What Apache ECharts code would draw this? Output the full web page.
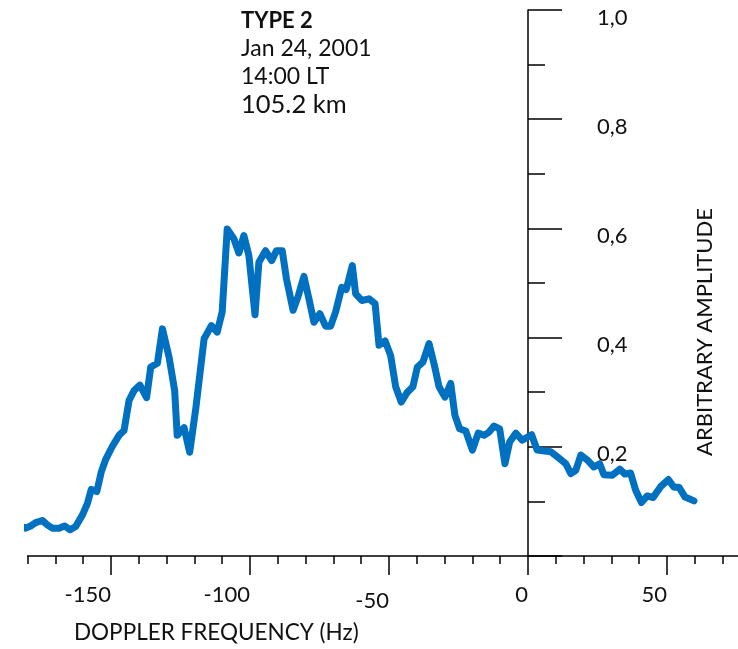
<!DOCTYPE html>
<html>
<head>
<meta charset="utf-8">
<script src="https://cdn.jsdelivr.net/npm/echarts@6/dist/echarts.min.js"></script>
<style>
html,body{margin:0;padding:0;background:#fff;}
#chart{width:738px;height:649px;}
</style>
</head>
<body>
<div id="chart"></div>
<script>
// Doppler frequency (Hz) and arbitrary amplitude
const freq = [-182.3,-180.7,-178.9,-177.1,-174.7,-172.9,-171.1,-168.7,-166.7,-164.7,-162.7,-160.3,-158.5,-157.1,-155.1,-153.5,-151.9,-149.5,-147.1,-145.3,-143.5,-141.7,-139.6,-137.2,-135.7,-133.3,-131.5,-129.1,-127.1,-126.2,-123.7,-121.7,-119.5,-116.5,-113.9,-111.8,-110.0,-108.2,-105.8,-104.0,-102.2,-100.4,-98.2,-96.8,-94.4,-92.2,-90.5,-88.4,-86.9,-84.5,-82.6,-80.6,-78.8,-77.0,-74.9,-72.8,-71.0,-69.2,-67.0,-65.4,-63.2,-62.0,-59.8,-57.2,-55.0,-53.6,-51.4,-49.4,-47.6,-45.6,-43.4,-41.4,-39.8,-37.8,-35.6,-33.8,-32.0,-29.9,-27.8,-26.3,-24.6,-22.4,-20.0,-17.9,-15.8,-14.0,-12.2,-10.2,-8.3,-6.6,-4.4,-2.1,1.3,3.3,8.2,11.2,13.6,15.4,17.2,19.0,21.3,23.7,25.8,27.3,30.3,33.0,34.9,36.9,38.7,40.8,42.9,45.0,47.7,50.5,52.5,54.3,56.5,59.7];
const amp = [0.054,0.051,0.055,0.061,0.065,0.057,0.051,0.051,0.055,0.048,0.054,0.075,0.096,0.122,0.118,0.154,0.177,0.201,0.221,0.230,0.285,0.303,0.313,0.290,0.346,0.353,0.416,0.364,0.303,0.221,0.235,0.190,0.270,0.398,0.422,0.410,0.447,0.599,0.581,0.555,0.587,0.550,0.442,0.538,0.559,0.541,0.559,0.559,0.508,0.450,0.477,0.512,0.471,0.428,0.444,0.421,0.421,0.447,0.492,0.488,0.532,0.480,0.468,0.471,0.462,0.386,0.394,0.367,0.310,0.282,0.300,0.310,0.346,0.355,0.389,0.352,0.310,0.291,0.316,0.258,0.233,0.229,0.194,0.225,0.221,0.227,0.238,0.233,0.169,0.209,0.225,0.212,0.222,0.194,0.191,0.179,0.169,0.151,0.157,0.185,0.176,0.163,0.169,0.149,0.148,0.159,0.150,0.152,0.121,0.098,0.110,0.107,0.127,0.140,0.126,0.126,0.108,0.101];

const xMajorTicks = [-150, -100, -50, 0, 50];
const xTickLabels = ['-150', '-100', '-50', '0', '50'];
const xMinorTicks = [-180,-170,-160,-150,-140,-130,-120,-110,-100,-90,-80,-70,-60,-50,-40,-30,-20,-10,0,10,20,30,40,50,60,70,80];
const yTicks = [0.2, 0.4, 0.6, 0.8, 1.0];
const yTickLabels = ['0,2', '0,4', '0,6', '0,8', '1,0'];
const infoLines = ['TYPE 2', 'Jan 24, 2001', '14:00 LT', '105.2 km'];
const xTitle = 'DOPPLER FREQUENCY (Hz)';
const yTitle = 'ARBITRARY AMPLITUDE';

const FONT = 'Lato';
const INK = '#111';
const LINE = '#0070C0';

const chart = echarts.init(document.getElementById('chart'), null, {renderer: 'canvas'});

const seriesData = freq.map((f, i) => [f, amp[i]]);

const option = {
  animation: false,
  backgroundColor: '#fff',
  textStyle: {fontFamily: FONT},
  title: [
    {
      left: 241, top: 7, padding: 0,
      text: '{b|' + infoLines[0] + '}\n{n|' + infoLines[1] + '}\n{n|' + infoLines[2] + '}\n{k|' + infoLines[3] + '}',
      textStyle: {
        fontWeight: 'normal',
        rich: {
          b: {fontFamily: FONT, fontWeight: 'bold', fontSize: 22, lineHeight: 28, color: INK},
          n: {fontFamily: FONT, fontWeight: 'normal', fontSize: 23, lineHeight: 28, color: INK},
          k: {fontFamily: FONT, fontWeight: 'normal', fontSize: 25.5, lineHeight: 28, color: INK}
        }
      }
    },
    {
      left: 74, top: 621, padding: 0,
      text: xTitle,
      textStyle: {fontFamily: FONT, fontWeight: 'normal', fontSize: 22.5, color: INK}
    }
  ],
  grid: {left: 27.6, right: -12.4, top: 10, bottom: 93, containLabel: false, outerBoundsMode: 'none'},
  xAxis: [
    {
      type: 'value', min: -180, max: 80, position: 'bottom',
      axisLine: {show: true, onZero: false, lineStyle: {color: '#000', width: 1.5}},
      axisTick: {show: true, customValues: xMajorTicks, length: 19, lineStyle: {color: '#000', width: 1.5}},
      axisLabel: {
        show: true, customValues: xMajorTicks, align: 'right', margin: 28,
        fontFamily: FONT, fontSize: 22, color: INK,
        formatter: function (v) {
          const i = xMajorTicks.indexOf(v);
          const t = i >= 0 ? xTickLabels[i] : '';
          return v === -50 ? '{low|' + t + '}' : t;
        },
        rich: {low: {fontFamily: FONT, fontSize: 22, color: INK, padding: [6, 0, 0, 0]}}
      },
      splitLine: {show: false}
    },
    {
      type: 'value', min: -180, max: 80, position: 'bottom', offset: 0,
      axisLine: {show: false, onZero: false},
      axisTick: {show: true, customValues: xMinorTicks, length: 8, lineStyle: {color: '#000', width: 1.5}},
      axisLabel: {show: false},
      splitLine: {show: false}
    }
  ],
  yAxis: {
    type: 'value', min: 0, max: 1, interval: 0.2, position: 'right', offset: -222.4,
    axisLine: {show: true, onZero: false, lineStyle: {color: '#000', width: 1.5}},
    axisTick: {show: true, length: 34, lineStyle: {color: '#000', width: 1.5}},
    minorTick: {show: true, splitNumber: 2, length: 17, lineStyle: {color: '#000', width: 1.5}},
    axisLabel: {
      show: true, margin: 69, fontFamily: FONT, fontSize: 22, color: INK,
      verticalAlign: 'top', lineHeight: 15,
      showMinLabel: false,
      formatter: function (v) {
        const i = yTicks.findIndex(t => Math.abs(t - v) < 1e-9);
        return i >= 0 ? yTickLabels[i] : '';
      }
    },
    splitLine: {show: false},
    minorSplitLine: {show: false},
    name: yTitle,
    nameLocation: 'middle',
    nameRotate: 90,
    nameGap: 166,
    nameTextStyle: {fontFamily: FONT, fontSize: 22, color: INK, padding: [0, 98, 0, 0]}
  },
  series: [{
    type: 'line',
    xAxisIndex: 0, yAxisIndex: 0,
    data: seriesData,
    showSymbol: false, symbol: 'none',
    clip: false,
    lineStyle: {color: LINE, width: 7, cap: 'round', join: 'round'}
  }]
};

chart.setOption(option);
</script>
</body>
</html>
